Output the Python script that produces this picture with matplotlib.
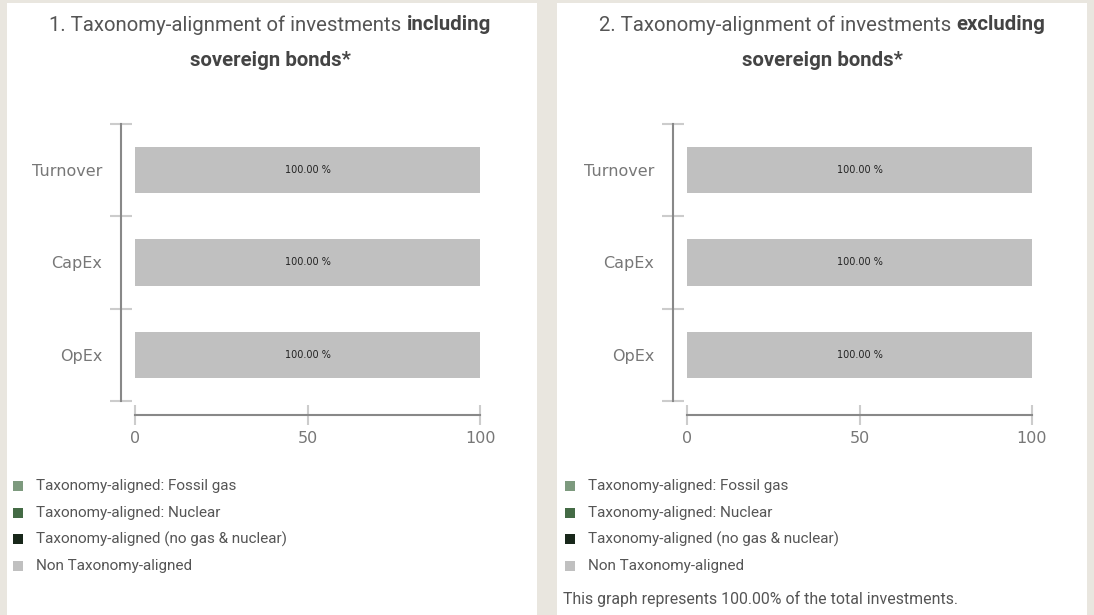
import matplotlib.pyplot as plt
import matplotlib.patches as mpatches
import numpy as np

plt.rcParams['font.family'] = 'DejaVu Sans'

categories = ['Turnover', 'CapEx', 'OpEx']
incl_values = [100.0, 100.0, 100.0]
excl_values = [100.0, 100.0, 100.0]
xticks = [0, 50, 100]
legend_labels = ['Taxonomy-aligned: Fossil gas', 'Taxonomy-aligned: Nuclear',
                 'Taxonomy-aligned (no gas & nuclear)', 'Non Taxonomy-aligned']
legend_colors = ['#7d9a7e', '#446b45', '#18271a', '#c0c0c0']
titles = [('1. Taxonomy-alignment of investments ', 'including', 'sovereign bonds*'),
          ('2. Taxonomy-alignment of investments ', 'excluding', 'sovereign bonds*')]
footnote = 'This graph represents 100.00% of the total investments.'

W, H = 1094, 615
fig = plt.figure(figsize=(W / 100, H / 100), dpi=100)
fig.patch.set_facecolor('#e9e6df')

# white panels
for x0 in [7, 557]:
    fig.patches.append(mpatches.Rectangle((x0 / W, 0), 530 / W, 612 / H,
                                          transform=fig.transFigure,
                                          facecolor='white', edgecolor='none', zorder=-5))

title_font = 'Roboto'
txtcol = '#555555'
renderer = fig.canvas.get_renderer()

for i, (vals, (t1, tb, t2)) in enumerate(zip([incl_values, excl_values], titles)):
    off = i * 552
    ax = fig.add_axes([(135 + off) / W, 1 - 401 / H, 345 / W, 277 / H])
    ax.set_zorder(2)
    ax.set_facecolor('none')
    ypos = np.arange(len(categories))
    ax.barh(ypos, vals, height=0.5, color='#c0c0c0')
    for y, v in zip(ypos, vals):
        ax.text(v / 2, y, f'{v:.2f} %', ha='center', va='center', fontsize=7, color='#222222')
    ax.set_xlim(0, 100)
    ax.set_ylim(2.5, -0.5)
    ax.set_xticks(xticks)
    ax.set_yticks(np.arange(-0.5, 3, 1))
    ax.set_yticklabels([])
    ax.set_yticks(ypos, minor=True)
    ax.set_yticklabels(categories, minor=True)
    for s in ['top', 'right']:
        ax.spines[s].set_visible(False)
    ax.spines['left'].set_position(('outward', 10))
    ax.spines['bottom'].set_position(('outward', 10))
    for s in ['left', 'bottom']:
        ax.spines[s].set_color('#888888')
        ax.spines[s].set_linewidth(1.5)
    ax.tick_params(axis='both', which='major', direction='inout', length=15,
                   width=1.5, color='#cccccc', labelsize=11.5, labelcolor='#777777')
    ax.tick_params(axis='y', which='major', length=16)
    ax.tick_params(axis='y', which='minor', length=0, pad=13.5, labelsize=11.5, labelcolor='#777777')
    ax.tick_params(axis='x', pad=4)

    # title with bold part
    cx = (270 + off) / W
    a = fig.text(0, 0, t1, fontsize=14.7, family=title_font, color=txtcol)
    b = fig.text(0, 0, tb, fontsize=14.7, family=title_font, color='#444444', weight='bold')
    wa = a.get_window_extent(renderer).width
    wb = b.get_window_extent(renderer).width
    start = cx * W - (wa + wb) / 2
    a.set_position((start / W, 1 - 25 / H))
    a.set_va('center')
    b.set_position(((start + wa) / W, 1 - 25 / H))
    b.set_va('center')
    fig.text(cx, 1 - 60 / H, t2, fontsize=14.7, family=title_font, color='#444444',
             weight='bold', ha='center', va='center')

    # legend
    for k, (lab, col) in enumerate(zip(legend_labels, legend_colors)):
        yy = 486 + k * 26.7
        fig.patches.append(mpatches.Rectangle(((13 + off) / W, 1 - (yy + 5) / H), 10 / W, 10 / H,
                                              transform=fig.transFigure,
                                              facecolor=col, edgecolor='none'))
        fig.text((36 + off) / W, 1 - yy / H, lab, fontsize=11, family=title_font,
                 color=txtcol, va='center')

fig.text(563 / W, 1 - 599 / H, footnote, fontsize=11.4, family=title_font,
         color=txtcol, va='center')

fig.savefig('out.png', dpi=100, facecolor=fig.get_facecolor())
